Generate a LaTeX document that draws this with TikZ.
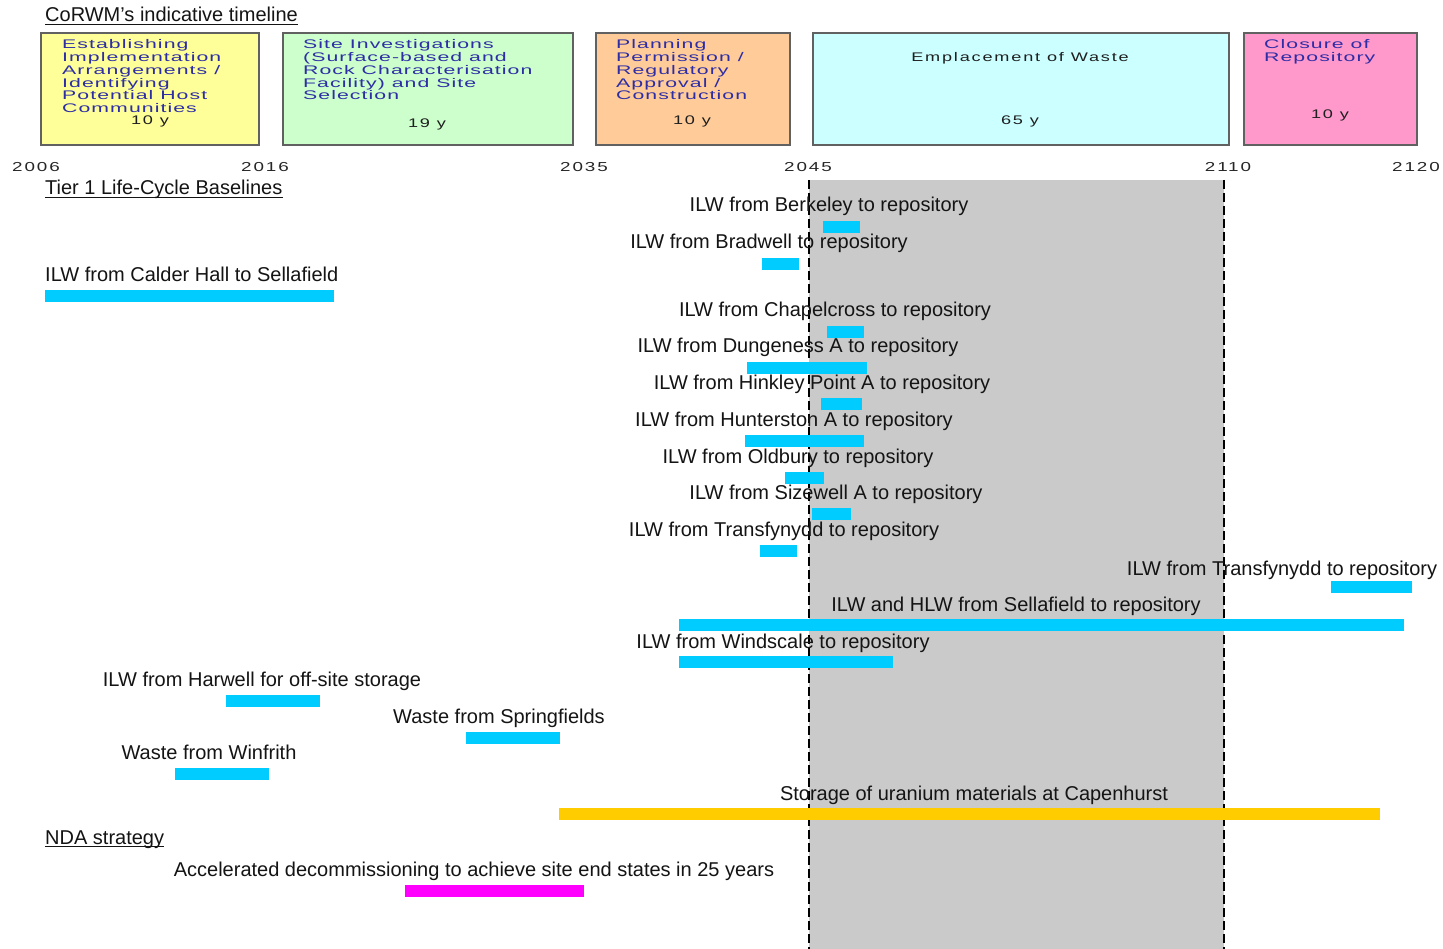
\documentclass[tikz,border=0pt]{standalone}
\usepackage{fontspec}
\usepackage{graphicx}
\setmainfont{Liberation Sans}
\newfontfamily\widefont[LetterSpace=10]{Liberation Sans}
\newfontfamily\boxfont[LetterSpace=5]{Liberation Sans}
\definecolor{boxyellow}{HTML}{FFFF99}
\definecolor{boxgreen}{HTML}{CCFFCC}
\definecolor{boxorange}{HTML}{FFCC99}
\definecolor{boxcyan}{HTML}{CCFFFF}
\definecolor{boxpink}{HTML}{FF99CC}
\definecolor{boxtext}{RGB}{45,45,165}
\definecolor{barcyan}{HTML}{00CCFF}
\definecolor{bargold}{HTML}{FFCC00}
\definecolor{barmag}{HTML}{FF00FF}
\definecolor{periodgray}{RGB}{202,202,202}
\newcommand\wtext[1]{\scalebox{1.7}[1]{\boxfont\fontsize{12.5}{12.7}\selectfont\begin{tabular}[t]{@{}l@{}}#1\end{tabular}}}
\newcommand\wy[1]{\scalebox{1.45}[1]{\widefont\fontsize{12.5}{14}\selectfont #1}}
\newcommand\wyr[1]{\scalebox{1.45}[1]{\widefont\fontsize{13}{15}\selectfont #1}}
\tikzset{
  phase/.style={draw=black!62, line width=1.6pt, inner sep=0pt, anchor=north west},
  boxlbl/.style={inner sep=0pt, anchor=base west, text=boxtext},
  durlbl/.style={inner sep=0pt, anchor=base, text=black!88},
  yearlbl/.style={inner sep=0pt, anchor=base, text=black!85},
  lbl/.style={font=\fontsize{20}{24}\selectfont, inner sep=0pt, anchor=base, text=black!92},
  lblw/.style={lbl, anchor=base west},
  head/.style={lblw},
  uline/.style={line width=1.3pt, black!92},
  bartile/.style={draw=none, inner sep=0pt, anchor=north west, minimum height=12pt},
  cbar/.style={bartile, fill=barcyan},
  gbar/.style={bartile, fill=bargold},
  mbar/.style={bartile, fill=barmag},
  periodfill/.style={fill=periodgray, draw=none},
  edge/.style={line width=1.8pt, black, dash pattern=on 9pt off 4pt}
}
\begin{document}
\begin{tikzpicture}[x=1pt,y=-1pt]
\useasboundingbox (0,0) rectangle (1443,949);
\fill[white] (0,0) rectangle (1443,949);

% shaded emplacement period
\path[periodfill] (809,180) rectangle (1224,949);
\coordinate (s1) at (809,180);
\coordinate (s2) at (809,949);
\coordinate (e1) at (1224,180);
\coordinate (e2) at (1224,949);
\draw[edge] (s1) -- (s2);
\draw[edge] (e1) -- (e2);

% headings
\node[head] (h1) at (45,22) {CoRWM’s indicative timeline};
\draw[uline] ([yshift=-2.5pt]h1.base west) -- ([yshift=-2.5pt]h1.base east);
\node[head] (h2) at (45,195) {Tier 1 Life-Cycle Baselines};
\draw[uline] ([yshift=-2.5pt]h2.base west) -- ([yshift=-2.5pt]h2.base east);
\node[head] (h3) at (45,844) {NDA strategy};
\draw[uline] ([yshift=-2.5pt]h3.base west) -- ([yshift=-2.5pt]h3.base east);

% phase boxes
\node[phase, fill=boxyellow, minimum width=218pt, minimum height=112pt] (p1) at (40,32) {};
\node[phase, fill=boxgreen, minimum width=290pt, minimum height=112pt] (p2) at (282,32) {};
\node[phase, fill=boxorange, minimum width=194pt, minimum height=112pt] (p3) at (595,32) {};
\node[phase, fill=boxcyan, minimum width=416pt, minimum height=112pt] (p4) at (812,32) {};
\node[phase, fill=boxpink, minimum width=173pt, minimum height=112pt] (p5) at (1243,32) {};

\node[boxlbl] (t1) at (62,48.5) {\wtext{Establishing\\Implementation\\Arrangements /\\Identifying\\Potential Host\\Communities}};
\node[durlbl] (d1) at (150,124.5) {\wy{10 y}};
\node[boxlbl] (t2) at (303,48.5) {\wtext{Site Investigations\\(Surface-based and\\Rock Characterisation\\Facility) and Site\\Selection}};
\node[durlbl] (d2) at (427,128) {\wy{19 y}};
\node[boxlbl] (t3) at (616,48.5) {\wtext{Planning\\Permission /\\Regulatory\\Approval /\\Construction}};
\node[durlbl] (d3) at (692,125) {\wy{10 y}};
\node[durlbl] (t4) at (1020,61.5) {\wy{Emplacement of Waste}};
\node[durlbl] (d4) at (1020,125) {\wy{65 y}};
\node[boxlbl] (t5) at (1264,49) {\wtext{Closure of\\Repository}};
\node[durlbl] (d5) at (1330,118.5) {\wy{10 y}};

% years
\node[yearlbl] (y1) at (36,172) {\wyr{2006}};
\node[yearlbl] (y2) at (265,172) {\wyr{2016}};
\node[yearlbl] (y3) at (584,172) {\wyr{2035}};
\node[yearlbl] (y4) at (808,172) {\wyr{2045}};
\node[yearlbl] (y5) at (1228,172) {\wyr{2110}};
\node[yearlbl] (y6) at (1416,172) {\wyr{2120}};

% bars
\node[cbar, minimum width=37pt] (b1) at (823,221) {};
\node[cbar, minimum width=37pt] (b2) at (762,258) {};
\node[cbar, minimum width=289pt] (b3) at (45,290) {};
\node[cbar, minimum width=37pt] (b4) at (827,326) {};
\node[cbar, minimum width=120pt] (b5) at (747,362) {};
\node[cbar, minimum width=41pt] (b6) at (821,398) {};
\node[cbar, minimum width=119pt] (b7) at (745,435) {};
\node[cbar, minimum width=39pt] (b8) at (785,472) {};
\node[cbar, minimum width=39pt] (b9) at (812,508) {};
\node[cbar, minimum width=37pt] (b10) at (760,545) {};
\node[cbar, minimum width=81pt] (b11) at (1331,581) {};
\node[cbar, minimum width=725pt] (b12) at (679,619) {};
\node[cbar, minimum width=214pt] (b13) at (679,656) {};
\node[cbar, minimum width=94pt] (b14) at (226,695) {};
\node[cbar, minimum width=94pt] (b15) at (466,732) {};
\node[cbar, minimum width=94pt] (b16) at (175,768) {};
\node[gbar, minimum width=821pt] (b17) at (559,808) {};
\node[mbar, minimum width=179pt] (b18) at (405,885) {};

% labels
\node[lbl] (l1) at (829,212) {ILW from Berkeley to repository};
\node[lbl] (l2) at (769,249) {ILW from Bradwell to repository};
\node[lblw] (l3) at (45,282) {ILW from Calder Hall to Sellafield};
\node[lbl] (l4) at (835,317) {ILW from Chapelcross to repository};
\node[lbl] (l5) at (798,353) {ILW from Dungeness A to repository};
\node[lbl] (l6) at (822,390) {ILW from Hinkley Point A to repository};
\node[lbl] (l7) at (794,426) {ILW from Hunterston A to repository};
\node[lbl] (l8) at (798,463) {ILW from Oldbury to repository};
\node[lbl] (l9) at (836,499) {ILW from Sizewell A to repository};
\node[lbl] (l10) at (784,536) {ILW from Transfynydd to repository};
\node[lbl] (l11) at (1282,575) {ILW from Transfynydd to repository};
\node[lbl] (l12) at (1016,611) {ILW and HLW from Sellafield to repository};
\node[lbl] (l13) at (783,648) {ILW from Windscale to repository};
\node[lbl] (l14) at (262,686) {ILW from Harwell for off-site storage};
\node[lbl] (l15) at (499,723) {Waste from Springfields};
\node[lbl] (l16) at (209,759) {Waste from Winfrith};
\node[lbl] (l17) at (974,800) {Storage of uranium materials at Capenhurst};
\node[lbl] (l18) at (474,876) {Accelerated decommissioning to achieve site end states in 25 years};
\end{tikzpicture}
\end{document}
